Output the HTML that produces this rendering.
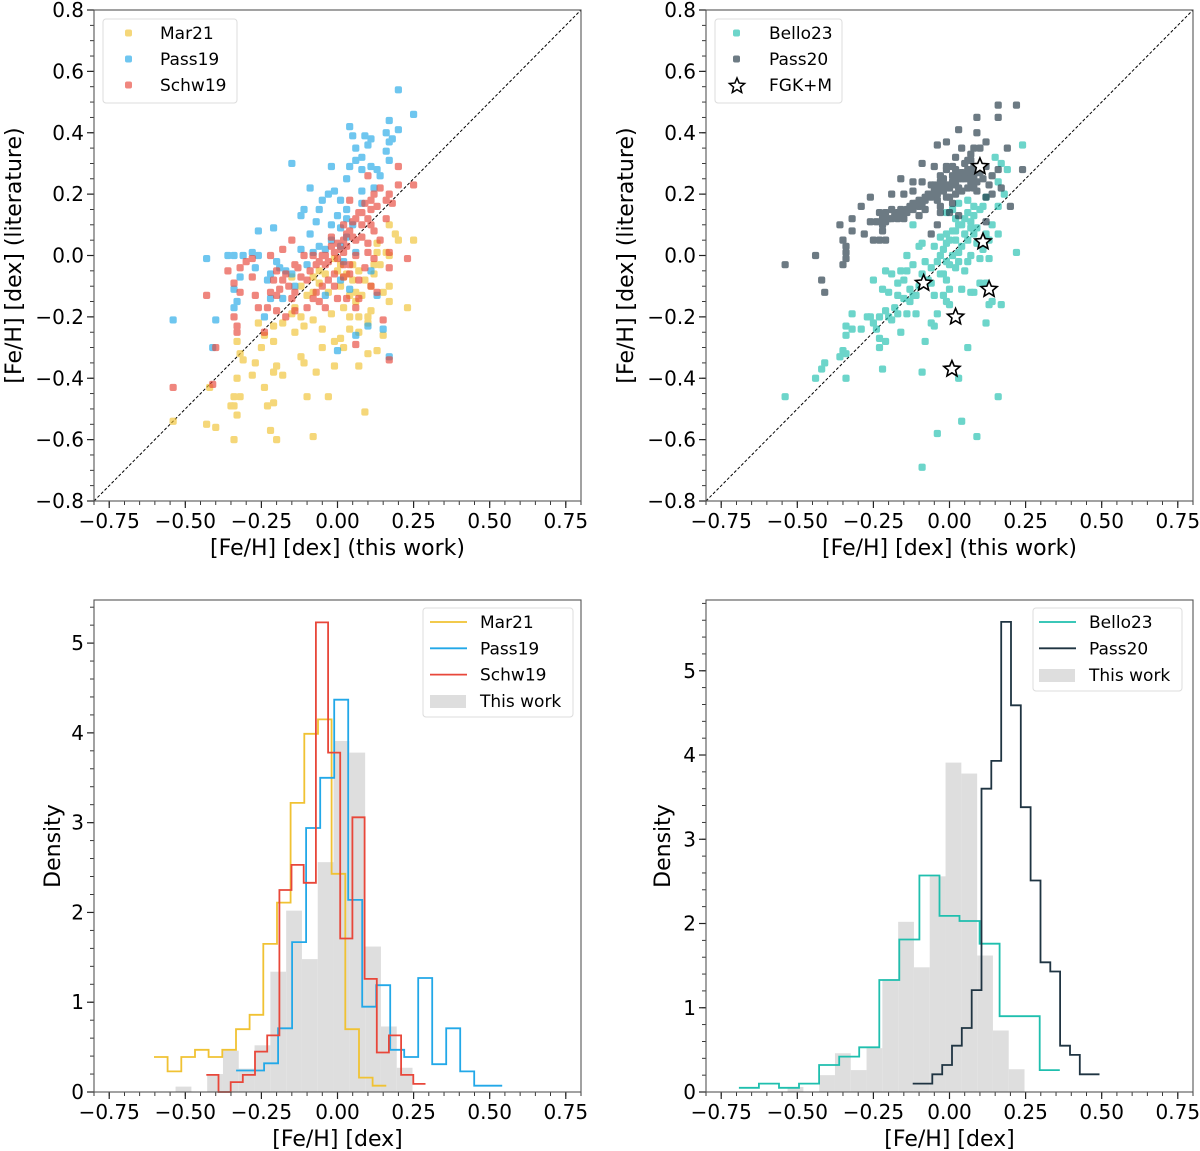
<!DOCTYPE html>
<html><head><meta charset="utf-8"><style>
html,body{margin:0;padding:0;background:#fff;}
svg{display:block;font-family:"DejaVu Sans","Liberation Sans",sans-serif;}
</style></head><body>
<svg id="fig" width="1200" height="1151" viewBox="0 0 1200 1151" xmlns="http://www.w3.org/2000/svg"></svg>
<script>
// ---------- DATA ----------
const mar21 = [[0.17,0.10],[0.19,0.07],[0.20,0.05],[0.25,0.05],[0.13,0.01],[0.16,0.01],[0.17,0.00],[0.14,-0.03],[0.17,-0.10],[0.12,-0.06],[0.11,-0.10],[0.08,-0.13],[0.06,-0.12],[0.05,-0.08],[0.03,-0.06],[0.01,-0.03],[-0.01,-0.01],[-0.04,-0.06],[-0.06,-0.09],[-0.08,-0.12],[-0.10,-0.13],[-0.14,-0.17],[-0.15,-0.19],[-0.12,-0.20],[-0.11,-0.23],[-0.14,-0.25],[-0.08,-0.21],[-0.05,-0.24],[-0.02,-0.19],[0.02,-0.17],[0.04,-0.20],[0.07,-0.20],[0.11,-0.18],[0.10,-0.20],[0.10,-0.22],[0.07,-0.25],[0.04,-0.24],[0.01,-0.27],[-0.01,-0.28],[0.02,-0.30],[-0.05,-0.30],[-0.12,-0.33],[-0.11,-0.35],[-0.07,-0.38],[-0.01,-0.36],[0.07,-0.36],[0.10,-0.32],[0.13,-0.31],[0.17,-0.15],[0.15,-0.26],[0.23,-0.17],[-0.21,-0.23],[-0.21,-0.28],[-0.26,-0.22],[-0.25,-0.30],[-0.27,-0.35],[-0.31,-0.34],[-0.32,-0.32],[-0.33,-0.28],[-0.20,-0.36],[-0.21,-0.38],[-0.18,-0.39],[-0.28,-0.39],[-0.33,-0.40],[-0.24,-0.43],[-0.34,-0.46],[-0.32,-0.46],[-0.35,-0.49],[-0.34,-0.49],[-0.33,-0.52],[-0.23,-0.49],[-0.21,-0.48],[-0.10,-0.46],[-0.03,-0.46],[0.09,-0.51],[-0.43,-0.55],[-0.40,-0.56],[-0.54,-0.54],[-0.34,-0.60],[-0.22,-0.57],[-0.20,-0.60],[-0.08,-0.59],[-0.42,-0.43],[-0.15,-0.07],[-0.06,-0.05],[0.01,-0.10],[0.04,-0.13],
 [0.00,-0.05],[0.02,-0.07],[0.05,-0.03],[0.07,-0.05],[0.09,-0.08],[0.12,-0.03],[0.13,0.04],[-0.03,-0.12],[-0.08,-0.07],[-0.12,-0.10],[0.06,-0.15],[0.15,-0.12],[-0.18,-0.22],[-0.24,-0.26]];
const pass19 = [[0.20,0.54],[0.25,0.46],[0.17,0.44],[0.20,0.41],[0.04,0.42],[0.05,0.39],[0.09,0.39],[0.11,0.38],[0.16,0.40],[0.18,0.38],[0.17,0.37],[0.10,0.36],[0.06,0.35],[0.16,0.34],[0.08,0.32],[0.17,0.31],[0.06,0.31],[0.04,0.29],[-0.02,0.29],[0.08,0.28],[0.11,0.29],[0.13,0.28],[0.14,0.26],[0.03,0.25],[-0.15,0.30],[-0.09,0.22],[-0.01,0.21],[-0.05,0.18],[-0.03,0.20],[0.01,0.18],[0.08,0.17],[-0.11,0.15],[-0.12,0.13],[-0.06,0.15],[0.00,0.13],[0.03,0.12],[-0.02,0.10],[0.01,0.09],[0.05,0.10],[-0.21,0.09],[-0.26,0.08],[-0.09,0.07],[-0.43,-0.01],[-0.36,0.00],[-0.34,0.00],[-0.31,0.00],[-0.28,0.01],[-0.26,0.00],[-0.20,-0.02],[-0.22,-0.06],[-0.27,-0.04],[-0.32,-0.07],[-0.34,-0.11],[-0.33,-0.15],[-0.34,-0.17],[-0.22,-0.14],[-0.18,-0.14],[-0.24,-0.20],[-0.54,-0.21],[-0.40,-0.21],[-0.41,-0.30],[0.00,-0.31],[0.06,-0.26],[0.15,-0.24],[0.17,-0.33],[0.10,-0.23],[0.13,-0.13],[0.11,-0.05],[0.01,-0.08],[0.04,-0.11],[-0.04,-0.13],[-0.08,0.01],[-0.06,0.03],[0.01,0.03],[-0.15,-0.06],[-0.14,-0.10],[-0.17,-0.05],[0.06,0.01],
 [-0.04,0.02],[-0.02,0.05],[0.03,0.06],[0.02,-0.02],[-0.10,-0.03],[-0.12,0.02],[0.08,0.21],[0.12,0.22],[0.03,0.15],[-0.07,0.11],[-0.19,-0.04],[-0.23,-0.08]];
const schw19 = [[0.20,0.29],[0.20,0.23],[0.25,0.23],[0.17,0.20],[0.04,0.18],[0.11,0.18],[0.16,0.18],[0.18,0.17],[0.11,0.15],[0.07,0.14],[0.05,0.11],[0.10,0.12],[0.11,0.10],[0.16,0.12],[0.12,0.08],[0.14,0.05],[0.08,0.06],[0.03,0.07],[-0.02,0.06],[-0.15,0.05],[-0.18,0.02],[-0.22,0.00],[-0.28,-0.01],[-0.32,-0.04],[-0.36,-0.05],[-0.34,-0.09],[-0.32,-0.12],[-0.43,-0.13],[-0.27,-0.13],[-0.22,-0.12],[-0.21,-0.08],[-0.20,-0.05],[-0.17,-0.06],[-0.16,-0.10],[-0.14,-0.03],[-0.11,0.00],[-0.08,0.00],[-0.06,-0.02],[-0.04,0.00],[-0.01,0.01],[0.01,0.02],[0.03,0.03],[0.06,0.05],[0.10,0.04],[0.10,0.01],[0.12,-0.01],[0.02,-0.03],[0.04,-0.06],[0.07,-0.08],[0.11,-0.10],[0.13,-0.12],[0.17,-0.04],[0.23,-0.01],[0.17,0.01],[-0.03,-0.08],[-0.05,-0.10],[-0.07,-0.12],[-0.08,-0.14],[-0.10,-0.17],[-0.14,-0.18],[-0.17,-0.20],[-0.20,-0.18],[-0.23,-0.17],[-0.26,-0.17],[-0.34,-0.20],[-0.33,-0.23],[-0.33,-0.25],[-0.24,-0.25],[-0.40,-0.30],[-0.54,-0.43],[-0.41,-0.42],[-0.04,-0.17],[0.00,-0.14],[0.03,-0.14],[0.06,-0.17],[0.07,-0.14],[0.15,-0.21],[0.17,-0.34],[0.06,-0.29],[0.02,-0.07],[-0.01,-0.06],[-0.10,-0.08],[-0.14,-0.12],[-0.20,-0.13],[0.06,0.12],[0.08,0.10],[0.02,0.01],[0.00,-0.01],[-0.04,-0.03],
 [-0.02,0.03],[0.00,0.04],[0.02,0.05],[0.04,0.08],[0.05,0.06],[-0.03,-0.02],[-0.05,0.00],[-0.07,-0.03],[-0.09,-0.05],[-0.12,-0.07],[-0.13,-0.04],[-0.18,-0.08],[-0.19,-0.11],[-0.15,-0.14],[0.08,0.14],[0.09,0.17],[0.12,0.20],[0.13,0.16],[0.14,0.22],[0.06,0.00],[0.04,-0.03],[0.09,-0.04],[-0.01,-0.10],[-0.06,-0.15],[-0.28,-0.07],[-0.30,-0.02],[0.10,0.26],[0.02,0.10]];
const bello23 = [[0.24,0.36],[0.15,0.32],[0.17,0.30],[0.19,0.28],[0.16,0.24],[0.12,0.19],[0.16,0.16],[0.11,0.16],[0.08,0.16],[0.06,0.18],[0.03,0.17],[0.01,0.15],[-0.01,0.14],[0.07,0.11],[0.09,0.09],[0.03,0.10],[0.01,0.08],[-0.01,0.07],[-0.03,0.06],[-0.01,0.04],[0.02,0.05],[0.06,0.05],[0.08,0.07],[0.12,0.07],[0.16,0.07],[0.22,0.01],[0.13,-0.01],[0.10,-0.01],[0.07,0.00],[0.03,0.01],[0.01,0.00],[-0.01,-0.02],[-0.03,0.00],[-0.05,0.03],[-0.09,0.04],[-0.10,0.03],[-0.12,0.10],[-0.14,0.00],[-0.12,-0.03],[-0.14,-0.05],[-0.16,-0.05],[-0.19,-0.06],[-0.21,-0.05],[-0.25,-0.08],[-0.22,-0.11],[-0.20,-0.12],[-0.17,-0.09],[-0.15,-0.08],[-0.13,-0.11],[-0.11,-0.13],[-0.09,-0.06],[-0.06,-0.09],[-0.03,-0.06],[-0.01,-0.08],[0.00,-0.11],[-0.02,-0.13],[-0.05,-0.13],[0.04,-0.11],[0.07,-0.12],[0.08,-0.12],[0.10,-0.09],[0.12,-0.09],[0.13,-0.16],[0.17,-0.16],[0.14,-0.15],[-0.01,-0.15],[0.00,-0.16],[-0.04,-0.19],[-0.06,-0.22],[-0.05,-0.23],[-0.08,-0.28],[-0.11,-0.19],[-0.14,-0.19],[-0.17,-0.19],[-0.16,-0.25],[-0.19,-0.21],[-0.21,-0.18],[-0.23,-0.20],[-0.24,-0.24],[-0.26,-0.20],[-0.27,-0.20],[-0.29,-0.24],[-0.32,-0.24],[-0.34,-0.26],[-0.32,-0.19],[-0.34,-0.23],[-0.23,-0.27],[-0.21,-0.28],[-0.23,-0.30],[-0.34,-0.32],[-0.35,-0.31],[-0.36,-0.33],[-0.41,-0.35],[-0.42,-0.37],[-0.44,-0.40],[-0.34,-0.40],[-0.22,-0.37],[-0.09,-0.38],[0.03,-0.40],[0.06,-0.30],[0.12,-0.22],[0.16,-0.46],[0.04,-0.54],[-0.04,-0.58],[0.09,-0.59],[-0.09,-0.69],[-0.54,-0.46],[-0.15,-0.14],[-0.17,-0.13],[-0.13,-0.15],[0.02,-0.04],[0.05,-0.05],
 [0.00,0.05],[0.02,0.08],[0.04,0.10],[0.05,0.12],[0.06,0.14],[0.04,0.03],[0.03,-0.02],[0.00,-0.03],[-0.02,0.02],[-0.04,-0.02],[-0.06,-0.04],[-0.08,-0.02],[0.05,0.07],[0.07,0.09],[0.09,0.04],[0.11,0.02],[0.13,0.05],[0.02,0.12],[0.08,0.13],[0.10,0.15],[-0.07,-0.08],[-0.10,-0.10],[-0.12,-0.13],[-0.18,-0.17],[-0.20,-0.20],[-0.25,-0.22],[-0.02,-0.06],[0.06,-0.02],[0.14,0.10],[0.18,0.20]];
const pass20 = [[0.16,0.49],[0.22,0.49],[0.09,0.45],[0.16,0.45],[0.03,0.41],[0.09,0.40],[-0.01,0.37],[-0.04,0.36],[0.12,0.37],[0.08,0.35],[0.04,0.35],[0.10,0.35],[0.19,0.35],[0.07,0.33],[0.02,0.32],[0.06,0.31],[0.01,0.29],[0.08,0.29],[-0.09,0.30],[-0.05,0.29],[-0.01,0.29],[0.16,0.28],[0.24,0.28],[-0.03,0.26],[0.01,0.26],[0.03,0.25],[0.07,0.24],[0.09,0.24],[0.12,0.29],[-0.12,0.24],[-0.09,0.24],[-0.16,0.25],[-0.05,0.23],[-0.02,0.22],[0.00,0.23],[0.03,0.22],[0.08,0.22],[0.12,0.19],[0.14,0.20],[0.17,0.22],[0.20,0.16],[-0.12,0.21],[-0.19,0.20],[-0.15,0.20],[-0.26,0.19],[-0.29,0.16],[-0.08,0.18],[-0.04,0.18],[-0.01,0.19],[0.02,0.20],[-0.12,0.17],[-0.14,0.14],[-0.16,0.13],[-0.19,0.12],[-0.21,0.11],[-0.23,0.14],[-0.21,0.14],[-0.20,0.12],[-0.17,0.12],[-0.15,0.12],[-0.10,0.13],[-0.08,0.15],[-0.03,0.16],[0.00,0.14],[0.03,0.13],[-0.04,0.10],[-0.06,0.07],[-0.10,0.16],[-0.22,0.10],[-0.22,0.08],[-0.23,0.05],[-0.25,0.05],[-0.21,0.05],[-0.28,0.07],[-0.26,0.11],[-0.32,0.12],[-0.36,0.10],[-0.32,0.08],[-0.35,0.05],[-0.34,0.03],[-0.34,0.01],[-0.34,-0.01],[-0.35,-0.03],[-0.44,0.00],[-0.54,-0.03],[-0.42,-0.08],[-0.41,-0.12],[0.12,0.11],[0.04,0.25],[-0.03,0.24],[-0.01,0.28],[0.06,0.28],[0.02,0.28],
 [-0.18,0.13],[-0.17,0.14],[-0.16,0.15],[-0.14,0.15],[-0.13,0.16],[-0.12,0.15],[-0.11,0.17],[-0.10,0.18],[-0.09,0.17],[-0.08,0.19],[-0.07,0.20],[-0.06,0.19],[-0.05,0.21],[-0.04,0.20],[-0.03,0.22],[-0.02,0.21],[-0.01,0.23],[0.00,0.22],[0.01,0.24],[0.02,0.23],[0.03,0.26],[0.04,0.27],[0.05,0.25],[0.06,0.26],[0.07,0.27],[0.08,0.26],[0.09,0.28],[0.10,0.27],[0.05,0.30],[0.07,0.31],[-0.02,0.25],[-0.06,0.23],[0.00,0.19],[0.04,0.21],[0.11,0.25],[0.13,0.23],[0.14,0.26],[-0.19,0.15],[-0.22,0.12],[-0.24,0.11],[0.06,0.22],[0.09,0.21],[0.01,0.17],[-0.03,0.14]];
const fgkm = [[0.10,0.29],[0.11,0.045],[-0.085,-0.09],[0.13,-0.11],[0.02,-0.20],[0.008,-0.37]];

// histograms: start edge, bin width, densities
const mar21HistStart = -0.603, mar21HistWidth = 0.0449;
const mar21Hist = [0.39,0.23,0.39,0.47,0.39,0.47,0.70,0.86,1.65,2.11,3.22,3.99,4.15,2.43,0.70,0.16,0.07];
const pass19HistStart = -0.333, pass19HistWidth = 0.046;
const pass19Hist = [0.24,0.24,0.32,0.71,1.67,2.94,3.50,4.37,2.14,0.95,1.19,0.47,0.39,1.27,0.31,0.71,0.23,0.07,0.07];
const schw19HistStart = -0.431, schw19HistWidth = 0.040;
const schw19Hist = [0.19,0,0.11,0.19,0.45,0.63,2.25,2.53,2.33,5.23,3.78,1.71,3.06,1.26,0.44,0.63,0.19,0.09];
const bello23HistStart = -0.692, bello23HistWidth = 0.0659;
const bello23Hist = [0.05,0.10,0.05,0.10,0.32,0.42,0.53,1.33,1.81,2.57,2.09,2.03,1.76,0.90,0.90,0.26];
const pass20HistStart = -0.121, pass20HistWidth = 0.0323;
const pass20Hist = [0.10,0.10,0.21,0.32,0.55,0.76,1.21,3.60,3.93,5.58,4.59,3.38,2.51,1.54,1.43,0.55,0.44,0.21,0.21];
const thisWorkHistStart = -0.532, thisWorkHistWidth = 0.0519;
const thisWorkHist = [0.06,0,0.20,0.46,0.26,0.52,1.34,2.02,1.48,2.56,3.91,3.78,1.62,0.73,0.27];

const xTicks = [-0.75,-0.5,-0.25,0,0.25,0.5,0.75];
const xTickLabels = ["−0.75","−0.50","−0.25","0.00","0.25","0.50","0.75"];
const yTicksTop = [-0.8,-0.6,-0.4,-0.2,0,0.2,0.4,0.6,0.8];
const yTickLabelsTop = ["−0.8","−0.6","−0.4","−0.2","0.0","0.2","0.4","0.6","0.8"];
const yTicksBL = [0,1,2,3,4,5];
const yTicksBR = [0,1,2,3,4,5];

// ---------- DRAWING ----------
const NS = "http://www.w3.org/2000/svg";
const svg = document.getElementById("fig");
function mk(tag, attrs, parent, text) {
  const e = document.createElementNS(NS, tag);
  for (const k in attrs) e.setAttribute(k, attrs[k]);
  if (text !== undefined) e.textContent = text;
  (parent || svg).appendChild(e);
  return e;
}
function makeAxes(name, left, top, w, h, xmin, xmax, ymin, ymax) {
  const g = mk("g", {});
  
  
  return {g, left, top, w, h,
    sx: v => left + (v - xmin) / (xmax - xmin) * w,
    sy: v => top + h - (v - ymin) / (ymax - ymin) * h,
    xmin, xmax, ymin, ymax};
}
function drawFrameTicks(ax, yTicks, yLabels, yMinorStep, xLabel, yLabel, yLabelX) {
  const g = ax.g;
  const bottom = ax.top + ax.h;
  for (let v = -0.8; v <= 0.8001; v += 0.05) {
    const x = ax.sx(v);
    mk("line", {x1:x, x2:x, y1:bottom, y2:bottom+4, stroke:"#222", "stroke-width":0.9}, g);
  }
  xTicks.forEach((v, i) => {
    const x = ax.sx(v);
    mk("line", {x1:x, x2:x, y1:bottom, y2:bottom+7, stroke:"#222", "stroke-width":1.2}, g);
    const t = mk("text", {x:x, y:bottom+27, "text-anchor":"middle", "font-size":20, fill:"#000"}, g, xTickLabels[i]);
    
    
  });
  for (let v = ax.ymin; v <= ax.ymax + 1e-6; v += yMinorStep) {
    const y = ax.sy(v);
    mk("line", {x1:ax.left-4, x2:ax.left, y1:y, y2:y, stroke:"#222", "stroke-width":0.9}, g);
  }
  yTicks.forEach((v, i) => {
    const y = ax.sy(v);
    mk("line", {x1:ax.left-7, x2:ax.left, y1:y, y2:y, stroke:"#222", "stroke-width":1.2}, g);
    const t = mk("text", {x:ax.left-10, y:y+7, "text-anchor":"end", "font-size":20, fill:"#000"}, g, yLabels[i]);
    
    
  });
  const f = mk("rect", {x:ax.left, y:ax.top, width:ax.w, height:ax.h, fill:"none", stroke:"#555", "stroke-width":1.1}, g);
  
  
  const xl = mk("text", {x:ax.left+ax.w/2, y:bottom+54, "text-anchor":"middle", "font-size":22, fill:"#000"}, g, xLabel);
  
  
  const cy = ax.top + ax.h/2;
  const yl = mk("text", {x:yLabelX, y:cy, "text-anchor":"middle", "font-size":22, fill:"#000", transform:`rotate(-90 ${yLabelX} ${cy})`}, g, yLabel);
  
  
}
function drawScatter(ax, pts, color, name) {
  const g = mk("g", {opacity:0.65}, ax.g);
  
  
  pts.forEach(p => {
    const r = mk("rect", {x:ax.sx(p[0])-3.6, y:ax.sy(p[1])-3.6, width:7.2, height:7.2, rx:2, fill:color}, g);
    
    
  });
}
function starPath(cx, cy, R) {
  const r = R * 0.45; let d = "";
  for (let i = 0; i < 10; i++) {
    const a = -Math.PI/2 + i * Math.PI/5, rr = i % 2 ? r : R;
    d += (i ? "L" : "M") + (cx + rr*Math.cos(a)).toFixed(2) + "," + (cy + rr*Math.sin(a)).toFixed(2);
  }
  return d + "Z";
}
function drawDiagonal(ax) {
  const l = mk("line", {x1:ax.sx(-0.8), y1:ax.sy(-0.8), x2:ax.sx(0.8), y2:ax.sy(0.8), stroke:"#000", "stroke-width":1, "stroke-dasharray":"3,2"}, ax.g);
  
  
}
function drawBars(ax, start, width, vals, name) {
  const g = mk("g", {}, ax.g);
  
  
  vals.forEach((v, i) => {
    if (v <= 0) return;
    const x0 = ax.sx(start + i*width), x1 = ax.sx(start + (i+1)*width);
    const b = mk("rect", {x:x0, y:ax.sy(v), width:x1-x0, height:ax.sy(0)-ax.sy(v), fill:"#dedede"}, g);
    
    
  });
}
function drawStep(ax, start, width, vals, color, name) {
  let d = "";
  vals.forEach((v, i) => {
    const x0 = ax.sx(start + i*width), x1 = ax.sx(start + (i+1)*width), y = ax.sy(v);
    d += (i ? "L" : "M") + x0.toFixed(1) + "," + y.toFixed(1) + "L" + x1.toFixed(1) + "," + y.toFixed(1);
  });
  const p = mk("path", {d, fill:"none", stroke:color, "stroke-width":1.8}, ax.g);
  
  
}
function legendBox(ax, x, y, w, h) {
  const r = mk("rect", {x, y, width:w, height:h, rx:3, fill:"#fff", "fill-opacity":0.85, stroke:"#dcdcdc", "stroke-width":1}, ax.g);
  
  
}
function legendText(ax, x, y, s) {
  const t = mk("text", {x, y:y+6, "font-size":17, fill:"#000"}, ax.g, s);
  
  
}

const C_MAR = "#f0c233", C_P19 = "#22a8e8", C_SCH = "#e8473a", C_BEL = "#1fbfae", C_P20 = "#1f3442";

// Top-left
const a1 = makeAxes("scatter-panel-1", 94, 10, 487, 491, -0.8, 0.8, -0.8, 0.8);
drawDiagonal(a1);
drawScatter(a1, mar21, C_MAR, "mar21");
drawScatter(a1, pass19, C_P19, "pass19");
drawScatter(a1, schw19, C_SCH, "schw19");
drawFrameTicks(a1, yTicksTop, yTickLabelsTop, 0.05, "[Fe/H] [dex] (this work)", "[Fe/H] [dex] (literature)", 21);
legendBox(a1, 103, 19, 134, 84);
[[C_MAR,"Mar21"],[C_P19,"Pass19"],[C_SCH,"Schw19"]].forEach((e, i) => {
  const y = 33 + i*26;
  mk("rect", {x:125, y:y-3.5, width:7, height:7, rx:2, fill:e[0], opacity:0.65}, a1.g);
  legendText(a1, 160, y, e[1]);
});

// Top-right
const a2 = makeAxes("scatter-panel-2", 706, 10, 487, 491, -0.8, 0.8, -0.8, 0.8);
drawDiagonal(a2);
drawScatter(a2, bello23, C_BEL, "bello23");
drawScatter(a2, pass20, C_P20, "pass20");
const sg = mk("g", {}, a2.g);


fgkm.forEach(p => {
  const s = mk("path", {d:starPath(a2.sx(p[0]), a2.sy(p[1]), 8.5), fill:"#fff", stroke:"#000", "stroke-width":1.6, "stroke-linejoin":"miter"}, sg);
  
  
});
drawFrameTicks(a2, yTicksTop, yTickLabelsTop, 0.05, "[Fe/H] [dex] (this work)", "[Fe/H] [dex] (literature)", 633);
legendBox(a2, 715, 19, 127, 84);
[[C_BEL,"Bello23"],[C_P20,"Pass20"]].forEach((e, i) => {
  const y = 33 + i*26;
  mk("rect", {x:733, y:y-3.5, width:7, height:7, rx:2, fill:e[0], opacity:0.65}, a2.g);
  legendText(a2, 769, y, e[1]);
});
mk("path", {d:starPath(737, 86, 8), fill:"#fff", stroke:"#000", "stroke-width":1.5}, a2.g);
legendText(a2, 769, 85, "FGK+M");

// Bottom-left
const a3 = makeAxes("histogram-panel-1", 94, 600, 487, 492, -0.8, 0.8, 0, 5.48);
drawBars(a3, thisWorkHistStart, thisWorkHistWidth, thisWorkHist, "this-work-hist");
drawStep(a3, mar21HistStart, mar21HistWidth, mar21Hist, C_MAR, "mar21-hist");
drawStep(a3, pass19HistStart, pass19HistWidth, pass19Hist, C_P19, "pass19-hist");
drawStep(a3, schw19HistStart, schw19HistWidth, schw19Hist, C_SCH, "schw19-hist");
drawFrameTicks(a3, yTicksBL, yTicksBL.map(String), 0.2, "[Fe/H] [dex]", "Density", 60);
legendBox(a3, 423, 608, 150, 109);
[[C_MAR,"Mar21"],[C_P19,"Pass19"],[C_SCH,"Schw19"]].forEach((e, i) => {
  const y = 622 + i*26.3;
  mk("line", {x1:430, x2:467, y1:y, y2:y, stroke:e[0], "stroke-width":1.8}, a3.g);
  legendText(a3, 480, y, e[1]);
});
mk("rect", {x:430, y:695, width:36, height:13, fill:"#dedede"}, a3.g);
legendText(a3, 480, 701, "This work");

// Bottom-right
const a4 = makeAxes("histogram-panel-2", 706, 600, 487, 492, -0.8, 0.8, 0, 5.84);
drawBars(a4, thisWorkHistStart, thisWorkHistWidth, thisWorkHist, "this-work-hist");
drawStep(a4, bello23HistStart, bello23HistWidth, bello23Hist, C_BEL, "bello23-hist");
drawStep(a4, pass20HistStart, pass20HistWidth, pass20Hist, C_P20, "pass20-hist");
drawFrameTicks(a4, yTicksBR, yTicksBR.map(String), 0.2, "[Fe/H] [dex]", "Density", 670);
legendBox(a4, 1033, 608, 149, 83);
[[C_BEL,"Bello23"],[C_P20,"Pass20"]].forEach((e, i) => {
  const y = 622 + i*26.3;
  mk("line", {x1:1039, x2:1076, y1:y, y2:y, stroke:e[0], "stroke-width":1.8}, a4.g);
  legendText(a4, 1089, y, e[1]);
});
mk("rect", {x:1039, y:669, width:36, height:13, fill:"#dedede"}, a4.g);
legendText(a4, 1089, 675, "This work");
</script>
</body></html>
